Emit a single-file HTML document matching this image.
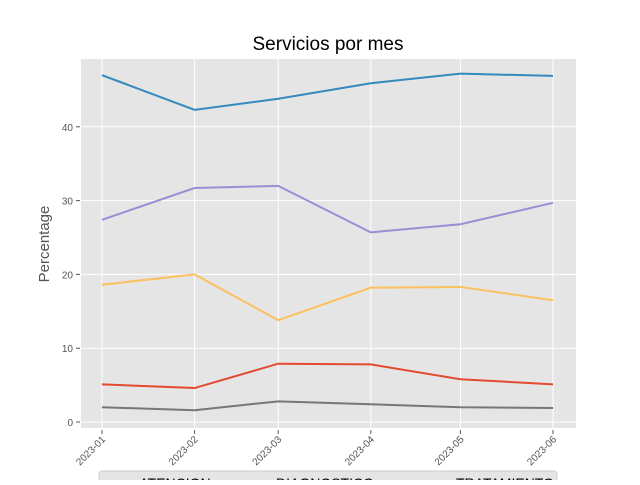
<!DOCTYPE html>
<html><head><meta charset="utf-8"><style>
body{margin:0;background:#fff;width:640px;height:480px;overflow:hidden;font-family:"Liberation Sans",sans-serif}
</style></head><body>
<svg id="chart" width="640" height="480" xmlns="http://www.w3.org/2000/svg">
<text x="328" y="50" text-anchor="middle" font-size="19" fill="#000">Servicios por mes</text>
<text transform="translate(49,244) rotate(-90)" text-anchor="middle" font-size="15" fill="#555">Percentage</text>
</svg>
<script>
const categories=["2023-01","2023-02","2023-03","2023-04","2023-05","2023-06"];
const dayOffsets=[0,31,59,90,120,151];
const seriesBlue=[47.0,42.3,43.8,45.9,47.2,46.9];
const seriesPurple=[27.4,31.7,32.0,25.7,26.8,29.7];
const seriesYellow=[18.6,20.0,13.8,18.2,18.3,16.5];
const seriesRed=[5.1,4.6,7.9,7.8,5.8,5.1];
const seriesGray=[2.0,1.6,2.8,2.4,2.0,1.9];
const yTicks=[0,10,20,30,40];
const legendLabels=["ATENCION","DIAGNOSTICO","TRATAMIENTO"];
const NS="http://www.w3.org/2000/svg";
const svg=document.getElementById('chart');
const L=81,R=576,T=59,B=428;
const x=d=>102+d*(451/151);
const y=v=>422-v*7.38;
function mk(t,a){const e=document.createElementNS(NS,t);for(const k in a)e.setAttribute(k,a[k]);svg.appendChild(e);return e;}
const bg=mk('rect',{x:L,y:T,width:R-L,height:B-T,fill:'#e5e5e5'});


yTicks.forEach(v=>{
 const g=mk('line',{x1:L,x2:R,y1:y(v),y2:y(v),stroke:'#fff','stroke-width':1});
 
 
 const tk=mk('line',{x1:L-5,x2:L-1,y1:y(v),y2:y(v),stroke:'#555'});
 
 
 const t=mk('text',{x:L-8,y:y(v)+4,'text-anchor':'end','font-size':10,fill:'#555'});
 t.textContent=v;
 
 
});
dayOffsets.forEach((d,i)=>{
 const g=mk('line',{x1:x(d),x2:x(d),y1:T,y2:B,stroke:'#fff','stroke-width':1});
 
 
 const tk=mk('line',{x1:x(d),x2:x(d),y1:B+2,y2:B+6,stroke:'#555'});
 
 
 const t=mk('text',{transform:`translate(${x(d)+4},${B+12}) rotate(-45)`,'text-anchor':'end','font-size':10,fill:'#555'});
 t.textContent=categories[i];
 
 
});
[[seriesBlue,'#348ABD','series-blue'],[seriesPurple,'#988ED5','series-purple'],[seriesYellow,'#FBC15E','series-yellow'],[seriesRed,'#E24A33','series-red'],[seriesGray,'#777777','series-gray']].forEach(([s,c,n])=>{
 const p=mk('polyline',{points:s.map((v,i)=>x(dayOffsets[i])+','+y(v)).join(' '),fill:'none',stroke:c,'stroke-width':2});
 
 
});
const lg=mk('rect',{x:99,y:471,width:458,height:20,rx:3,fill:'#e5e5e5',stroke:'#ccc'});


[175,325,505].forEach((cx,i)=>{
 const t=mk('text',{x:cx,y:488,'text-anchor':'middle','font-size':14,fill:'#000'});
 t.textContent=legendLabels[i];
 
 
});
</script>
</body></html>
